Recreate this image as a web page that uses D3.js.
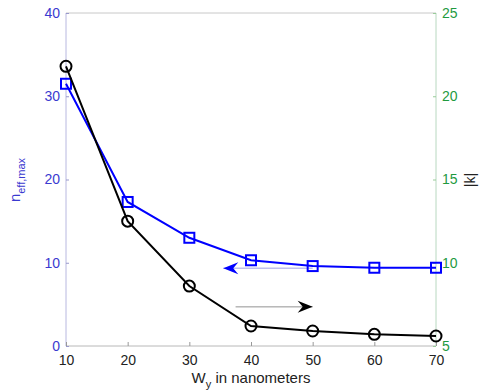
<!DOCTYPE html>
<html><head><meta charset="utf-8">
<script src="https://cdn.jsdelivr.net/npm/d3@7"></script>
<style>body{margin:0;background:#fff}svg{font-family:"Liberation Sans",Arial,sans-serif}</style>
</head><body><svg id="c" width="480" height="392"></svg>
<script>
const widths = [10, 20, 30, 40, 50, 60, 70];
const neffMax = [31.5, 17.3, 13.0, 10.3, 9.6, 9.4, 9.4];
const kAbs = [21.8, 12.5, 8.6, 6.2, 5.9, 5.7, 5.6];
const xTicks = [10, 20, 30, 40, 50, 60, 70];
const leftTicks = [0, 10, 20, 30, 40];
const rightTicks = [5, 10, 15, 20, 25];

const svg = d3.select("#c");
const L = 66, R = 436, T = 13, B = 346;
const x = d3.scaleLinear().domain([10, 70]).range([L, R]);
const yL = d3.scaleLinear().domain([0, 40]).range([B, T]);
const yR = d3.scaleLinear().domain([5, 25]).range([B, T]);
const blue = "#0000ff", leftCol = "#3a3ad0", rightCol = "#1f9a3f";

// frame
svg.append("line").attr("x1", L).attr("x2", R).attr("y1", T).attr("y2", T).attr("stroke", "#c8c8c8");
svg.append("line").attr("x1", L).attr("x2", R).attr("y1", B).attr("y2", B).attr("stroke", "#b8b8b8");
svg.append("line").attr("x1", L).attr("x2", L).attr("y1", T).attr("y2", B).attr("stroke", "#b8b8e0");
svg.append("line").attr("x1", R).attr("x2", R).attr("y1", T).attr("y2", B).attr("stroke", "#b8d8c0");

// axes
const gx = svg.append("g").attr("transform", `translate(0,${B})`)
  .call(d3.axisBottom(x).tickValues(xTicks).tickSize(-4).tickPadding(9));
gx.select(".domain").remove();
gx.selectAll("line").attr("stroke", "#999");
gx.selectAll("text").attr("font-size", 14).attr("fill", "#222");

const gl = svg.append("g").attr("transform", `translate(${L},0)`)
  .call(d3.axisLeft(yL).tickValues(leftTicks).tickSize(-3).tickPadding(6));
gl.select(".domain").remove();
gl.selectAll("line").attr("stroke", "#99c");
gl.selectAll("text").attr("font-size", 14).attr("fill", leftCol);

const gr = svg.append("g").attr("transform", `translate(${R},0)`)
  .call(d3.axisRight(yR).tickValues(rightTicks).tickSize(-3).tickPadding(6));
gr.select(".domain").remove();
gr.selectAll("line").attr("stroke", "#9c9");
gr.selectAll("text").attr("font-size", 14).attr("fill", rightCol);

// labels
const xl = svg.append("text").attr("x", 251).attr("y", 383).attr("text-anchor", "middle")
  .attr("font-size", 15).attr("fill", "#222");
xl.append("tspan").text("W");
xl.append("tspan").attr("dy", 5).attr("font-size", 11).text("y");
xl.append("tspan").attr("dy", -5).text(" in nanometers");

const yl = svg.append("text").attr("transform", "translate(20,180) rotate(-90)")
  .attr("text-anchor", "middle").attr("font-size", 15).attr("fill", leftCol);
yl.append("tspan").text("n");
yl.append("tspan").attr("dy", 5).attr("font-size", 11).text("eff,max");

svg.append("text").attr("transform", "translate(475,180) rotate(-90)")
  .attr("text-anchor", "middle").attr("font-size", 14).attr("fill", "#222").text("|k|");

// arrows (drawn under the series)
function arrow(x1, x2, y, col, lineCol) {
  svg.append("line").attr("x1", x1).attr("x2", x2).attr("y1", y).attr("y2", y).attr("stroke", lineCol).attr("stroke-width", 0.8);
  const dir = Math.sign(x2 - x1);
  svg.append("path").attr("d", `M${x2},${y} L${x2 - dir * 15},${y - 6} L${x2 - dir * 10},${y} L${x2 - dir * 15},${y + 6} Z`).attr("fill", col);
}
arrow(x(50), x(35.5), yL(9.35), blue, "#8888dd");
arrow(x(37.5), x(50), yR(7.35), "#000", "#777");

// series
const lineB = d3.line().x((d, i) => x(widths[i])).y(d => yL(d));
svg.append("path").datum(neffMax).attr("d", lineB).attr("fill", "none").attr("stroke", blue).attr("stroke-width", 2);
svg.selectAll(".sq").data(neffMax).enter().append("rect")
  .attr("x", (d, i) => x(widths[i]) - 5).attr("y", d => yL(d) - 5).attr("width", 10).attr("height", 10)
  .attr("fill", "none").attr("stroke", blue).attr("stroke-width", 2);

const lineK = d3.line().x((d, i) => x(widths[i])).y(d => yR(d));
svg.append("path").datum(kAbs).attr("d", lineK).attr("fill", "none").attr("stroke", "#000").attr("stroke-width", 2);
svg.selectAll(".ci").data(kAbs).enter().append("circle")
  .attr("cx", (d, i) => x(widths[i])).attr("cy", d => yR(d)).attr("r", 5.5)
  .attr("fill", "none").attr("stroke", "#000").attr("stroke-width", 2);
</script></body></html>
